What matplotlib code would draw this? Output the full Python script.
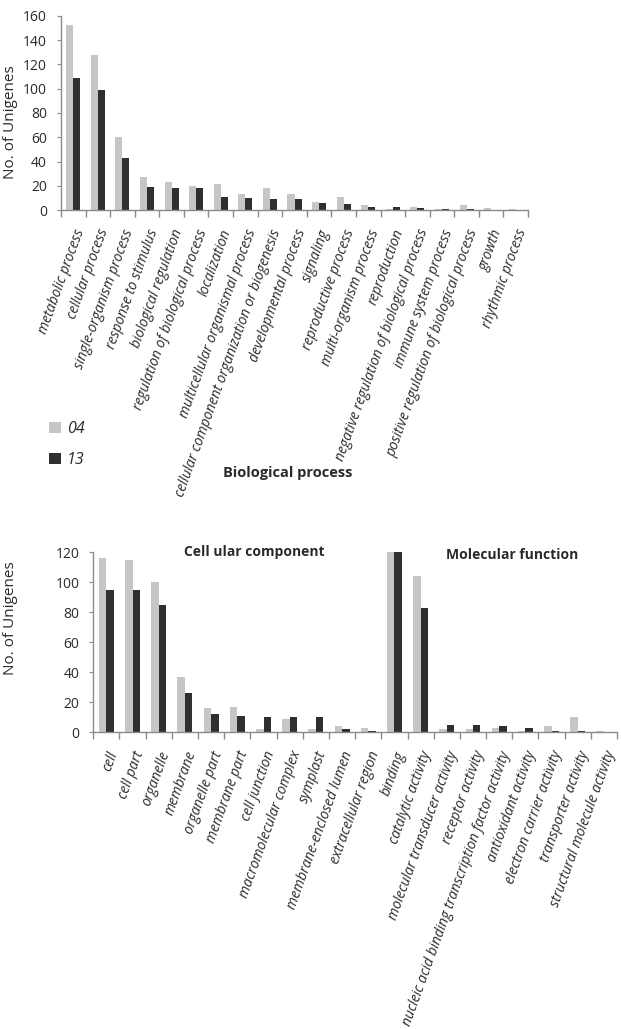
import matplotlib.pyplot as plt
import numpy as np

plt.rcParams['font.family'] = ['Open Sans', 'DejaVu Sans']

# Biological process
bp_names = ['metabolic process', 'cellular process', 'single-organism process',
            'response to stimulus', 'biological regulation',
            'regulation of biological process', 'localization',
            'multicellular organismal process',
            'cellular component organization or biogenesis',
            'developmental process', 'signaling', 'reproductive process',
            'multi-organism process', 'reproduction',
            'negative regulation of biological process',
            'immune system process',
            'positive regulation of biological process', 'growth',
            'rhythmic process']
bp_04 = [152, 128, 60, 27, 23, 20, 22, 13, 18, 13, 7, 11, 4, 1, 3, 1, 4, 2, 1]
bp_13 = [109, 99, 43, 19, 18, 18, 11, 10, 9, 9, 6, 5, 3, 3, 2, 1, 1, 0, 0]

# Cellular component + molecular function
cm_names = ['cell', 'cell part', 'organelle', 'membrane', 'organelle part',
            'membrane part', 'cell junction', 'macromolecular complex',
            'symplast', 'membrane-enclosed lumen', 'extracellular region',
            'binding', 'catalytic activity', 'molecular transducer activity',
            'receptor activity',
            'nucleic acid binding transcription factor activity',
            'antioxidant activity', 'electron carrier activity',
            'transporter activity', 'structural molecule activity']
# binding runs off the top of the axis (clipped at 120)
cm_04 = [116, 115, 100, 37, 16, 17, 2, 9, 2, 4, 3,
         125, 104, 2, 2, 3, 1, 4, 10, 1]
cm_13 = [95, 95, 85, 26, 12, 11, 10, 10, 10, 2, 1,
         125, 83, 5, 5, 4, 3, 1, 1, 0]

c04 = '#c6c6c6'
c13 = '#2f2f2f'
axcol = '#8a8a8a'
txt = '#2a2a2a'

W, H = 621, 1029
fig = plt.figure(figsize=(W / 100, H / 100), dpi=100)


def px_axes(l, t, r, b):
    return fig.add_axes([l / W, 1 - b / H, (r - l) / W, (b - t) / H])


def draw(ax, names, v04, v13, ymax):
    n = len(names)
    x = np.arange(n)
    w = 0.285
    b1 = ax.bar(x - w / 2, v04, w, color=c04, label='04')
    b2 = ax.bar(x + w / 2, v13, w, color=c13, label='13')
    ax.set_xlim(-0.5, n - 0.5)
    ax.set_ylim(0, ymax)
    ax.set_yticks(np.arange(0, ymax + 1, 20))
    for s in ['top', 'right']:
        ax.spines[s].set_visible(False)
    for s in ['left', 'bottom']:
        ax.spines[s].set_color(axcol)
        ax.spines[s].set_linewidth(1)
    ax.set_xticks(x)
    ax.set_xticklabels(names, rotation=70, ha='right', rotation_mode='anchor',
                       fontsize=10, style='italic', color=txt)
    ax.tick_params(axis='x', length=0, pad=12)
    ax.set_xticks(np.arange(n + 1) - 0.5, minor=True)
    ax.tick_params(axis='x', which='minor', length=5, color=axcol, width=1)
    ax.tick_params(axis='y', length=3, color=axcol, labelsize=10,
                   labelcolor=txt, pad=7)
    return b1, b2


ax1 = px_axes(61, 15.7, 528, 210.3)
h1, h2 = draw(ax1, bp_names, bp_04, bp_13, 160)
ax2 = px_axes(93.3, 552.3, 617, 732.3)
draw(ax2, cm_names, cm_04, cm_13, 120)

fig.text(11 / W, 1 - 122 / H, 'No. of Unigenes', rotation=90, ha='center',
         va='center', fontsize=11, color=txt)
fig.text(11 / W, 1 - 618 / H, 'No. of Unigenes', rotation=90, ha='center',
         va='center', fontsize=11, color=txt)

fig.text(288 / W, 1 - 473 / H, 'Biological process', ha='center',
         va='center', fontsize=10.5, fontweight='bold', color=txt)
fig.text(254 / W, 1 - 552 / H, 'Cell ular component', ha='center',
         va='center', fontsize=10, fontweight='bold', color=txt)
fig.text(512 / W, 1 - 555 / H, 'Molecular function', ha='center',
         va='center', fontsize=10, fontweight='bold', color=txt)

fig.legend([h1, h2], ['04', '13'], loc='upper left',
           bbox_to_anchor=(35 / W, 1 - 407 / H), frameon=False,
           handlelength=0.7, handleheight=0.7, handletextpad=0.4,
           labelspacing=0.9, prop={'size': 11.5, 'style': 'italic'},
           labelcolor=txt)

fig.savefig('out.png', dpi=100)
